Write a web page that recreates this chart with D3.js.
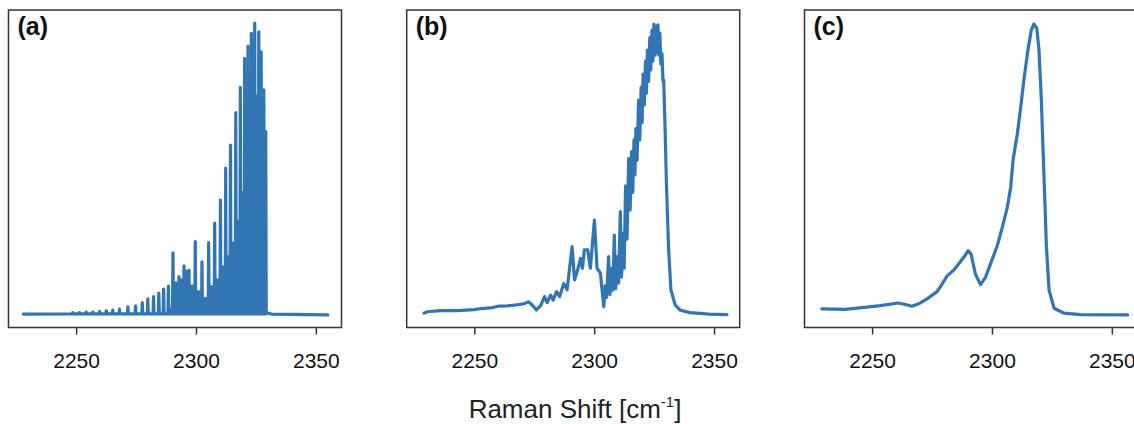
<!DOCTYPE html>
<html>
<head>
<meta charset="utf-8">
<script src="https://cdn.jsdelivr.net/npm/d3@7"></script>
<style>
  html, body { margin: 0; padding: 0; background: #fff; }
  svg { display: block; font-family: "Liberation Sans", Arial, sans-serif; }
</style>
</head>
<body>
<svg id="chart" width="1134" height="424"></svg>
<script>
// ---- Data: normalized Raman intensity vs. shift (cm^-1) ----

// (a) resolved Q-branch: strong lines (position, peak height)
const aLinePos = [2248.6, 2251.4, 2254.2, 2257.0, 2259.8, 2262.6, 2265.3, 2268.1,
  2271.6, 2274.8, 2277.6, 2279.9, 2282.3, 2284.5, 2286.5, 2288.5, 2290.4, 2292.9,
  2295.0, 2297.1, 2299.7, 2302.5, 2305.3, 2307.8, 2310.2, 2312.4, 2314.4, 2316.6,
  2318.5, 2320.3, 2321.7, 2323.1, 2324.5, 2326.2, 2327.2, 2328.3, 2329.1];
const aLinePeak = [0.008, 0.008, 0.010, 0.010, 0.012, 0.014, 0.017, 0.020,
  0.028, 0.031, 0.042, 0.055, 0.063, 0.075, 0.089, 0.099, 0.213, 0.131,
  0.168, 0.154, 0.251, 0.182, 0.248, 0.315, 0.394, 0.503, 0.582, 0.693,
  0.780, 0.879, 0.921, 0.965, 1.000, 0.970, 0.902, 0.771, 0.628];
// weaker (hot-band) lines lying between the strong ones
const aMinorPos = [2289.5, 2291.6, 2294.0, 2296.1, 2298.4, 2301.1, 2303.9, 2306.6,
  2309.0, 2311.3, 2313.4, 2315.5, 2317.5, 2319.4, 2321.0, 2322.4, 2323.8, 2325.3,
  2326.7, 2327.7, 2328.7];
const aMinorPeak = [0.020, 0.110, 0.120, 0.150, 0.100, 0.080, 0.057, 0.097,
  0.120, 0.165, 0.200, 0.246, 0.320, 0.420, 0.550, 0.650, 0.720, 0.750,
  0.720, 0.600, 0.500];
const aBaseline = 0.004;
const aEdges = [[2228.0, 0.003], [2330.3, 0.006], [2331.5, 0.003], [2355.0, 0.0]];

// (b) partially resolved spectrum
const bTrace = [
  [2229.0, 0.006], [2230.4, 0.011], [2235.9, 0.015], [2242.9, 0.015], [2249.8, 0.018],
  [2253.0, 0.022], [2256.8, 0.024], [2260.0, 0.030], [2263.7, 0.031], [2267.9, 0.035],
  [2270.6, 0.038], [2272.7, 0.045], [2274.1, 0.034], [2275.9, 0.017], [2277.6, 0.031],
  [2279.3, 0.063], [2280.4, 0.042], [2281.8, 0.068], [2282.9, 0.051], [2284.3, 0.080],
  [2285.6, 0.063], [2287.3, 0.108], [2288.7, 0.086], [2290.8, 0.234], [2291.8, 0.120],
  [2293.1, 0.154], [2294.3, 0.194], [2295.1, 0.160], [2295.9, 0.223], [2297.3, 0.223],
  [2298.4, 0.160], [2300.1, 0.325], [2301.2, 0.160], [2302.6, 0.143], [2304.0, 0.028],
  [2304.6, 0.100], [2305.2, 0.060], [2306.0, 0.200], [2306.6, 0.070], [2307.3, 0.160],
  [2307.8, 0.085], [2308.4, 0.274], [2309.0, 0.090], [2309.7, 0.200], [2310.2, 0.110],
  [2310.9, 0.354], [2311.4, 0.130], [2312.1, 0.280], [2312.5, 0.160], [2313.1, 0.442],
  [2313.7, 0.260], [2314.4, 0.537], [2315.0, 0.360], [2315.6, 0.560], [2316.1, 0.420],
  [2316.6, 0.600], [2317.0, 0.480], [2317.4, 0.639], [2317.9, 0.530], [2318.5, 0.736],
  [2319.0, 0.600], [2319.6, 0.780], [2320.0, 0.660], [2320.4, 0.825], [2320.9, 0.720],
  [2321.4, 0.870], [2321.8, 0.760], [2322.2, 0.908], [2322.7, 0.800], [2323.2, 0.950],
  [2323.6, 0.840], [2324.1, 0.975], [2324.5, 0.870], [2324.9, 0.997], [2325.4, 0.890],
  [2325.8, 0.990], [2326.2, 0.900], [2326.6, 0.994], [2327.0, 0.890], [2327.4, 0.965],
  [2327.8, 0.860], [2328.3, 0.896], [2328.7, 0.800], [2329.0, 0.805], [2329.6, 0.630],
  [2330.1, 0.462], [2331.0, 0.234], [2332.0, 0.086], [2333.8, 0.034], [2336.0, 0.016],
  [2340.0, 0.008], [2348.0, 0.003], [2355.4, 0.001]
];

// (c) unresolved envelope
const cTrace = [
  [2229.0, 0.021], [2238.7, 0.019], [2247.8, 0.027], [2253.4, 0.032], [2261.0, 0.041],
  [2263.9, 0.036], [2266.6, 0.030], [2269.4, 0.038], [2272.9, 0.055], [2277.1, 0.080],
  [2279.2, 0.106], [2281.3, 0.134], [2284.1, 0.154], [2286.9, 0.183], [2288.7, 0.203],
  [2290.1, 0.220], [2291.3, 0.208], [2293.1, 0.140], [2295.2, 0.104], [2297.3, 0.129],
  [2299.4, 0.175], [2302.2, 0.237], [2304.3, 0.300], [2306.4, 0.369], [2307.8, 0.437],
  [2308.8, 0.531], [2310.6, 0.622], [2312.0, 0.713], [2313.3, 0.805], [2315.0, 0.908],
  [2316.4, 0.976], [2317.5, 0.997], [2318.7, 0.982], [2319.6, 0.908], [2320.6, 0.736],
  [2321.3, 0.565], [2322.0, 0.405], [2322.7, 0.234], [2323.8, 0.086], [2325.9, 0.023],
  [2330.1, 0.006], [2337.0, 0.001], [2356.6, 0.000]
];

const panelLabels = ["(a)", "(b)", "(c)"];
const xTicks = [2250, 2300, 2350];
const xTitle = "Raman Shift [cm";
const xTitleSup = "-1";

// ---- Layout ----
const W = 1134, H = 424;
const panelX = [8.5, 406.7, 804.5];
const panelW = 333;
const plotTop = 10, plotBottom = 327.5;
const lineColor = "#3175b2";

// expand line lists into one polyline: each line rises from the baseline
// to its peak and falls back
function stickTrace(lines, base, edges) {
  const d = 0.2;
  const pts = [edges[0]];
  lines.forEach(([p, h]) => {
    pts.push([p - d, base], [p, h], [p + d, base]);
  });
  pts.push(...edges.slice(1));
  return pts;
}

const aLines = aLinePos.map((p, i) => [p, aLinePeak[i]])
  .concat(aMinorPos.map((p, i) => [p, aMinorPeak[i]]))
  .sort((u, v) => u[0] - v[0]);

const series = [
  stickTrace(aLines, aBaseline, aEdges),
  bTrace,
  cTrace
];

const svg = d3.select("#chart");
svg.append("rect").attr("width", W).attr("height", H).attr("fill", "#fff");

series.forEach((data, i) => {
  const x = d3.scaleLinear().domain([2221.8, 2360.7]).range([panelX[i], panelX[i] + panelW]);
  const y = d3.scaleLinear().domain([-0.043, 1.045]).range([plotBottom, plotTop]);

  const g = svg.append("g");

  g.append("path")
    .datum(data)
    .attr("fill", "none")
    .attr("stroke", lineColor)
    .attr("stroke-width", 3.2)
    .attr("stroke-linejoin", "round")
    .attr("stroke-linecap", "round")
    .attr("d", d3.line().x(d => x(d[0])).y(d => y(d[1])));

  // frame
  g.append("rect")
    .attr("x", panelX[i]).attr("y", plotTop)
    .attr("width", panelW).attr("height", plotBottom - plotTop)
    .attr("fill", "none").attr("stroke", "#333").attr("stroke-width", 1.5);

  const axis = d3.axisBottom(x).tickValues(xTicks).tickFormat(d3.format("d"))
    .tickSize(7).tickPadding(19).tickSizeOuter(0);
  const ax = g.append("g").attr("transform", `translate(0,${plotBottom})`).call(axis);
  ax.select(".domain").remove();
  ax.selectAll(".tick line").attr("stroke", "#333").attr("stroke-width", 1.5);
  ax.selectAll(".tick text").attr("fill", "#111").attr("font-size", 21)
    .attr("font-family", "'Liberation Sans', Arial, sans-serif");

  g.append("text")
    .attr("x", panelX[i] + 9).attr("y", 35)
    .attr("font-size", 25).attr("font-weight", "bold").attr("fill", "#111")
    .text(panelLabels[i]);
});

const title = svg.append("text")
  .attr("x", 575).attr("y", 418)
  .attr("text-anchor", "middle")
  .attr("font-size", 26).attr("fill", "#222");
title.append("tspan").text(xTitle);
title.append("tspan").attr("font-size", 15).attr("dy", -11).text(xTitleSup);
title.append("tspan").attr("dy", 11).text("]");
</script>
</body>
</html>
